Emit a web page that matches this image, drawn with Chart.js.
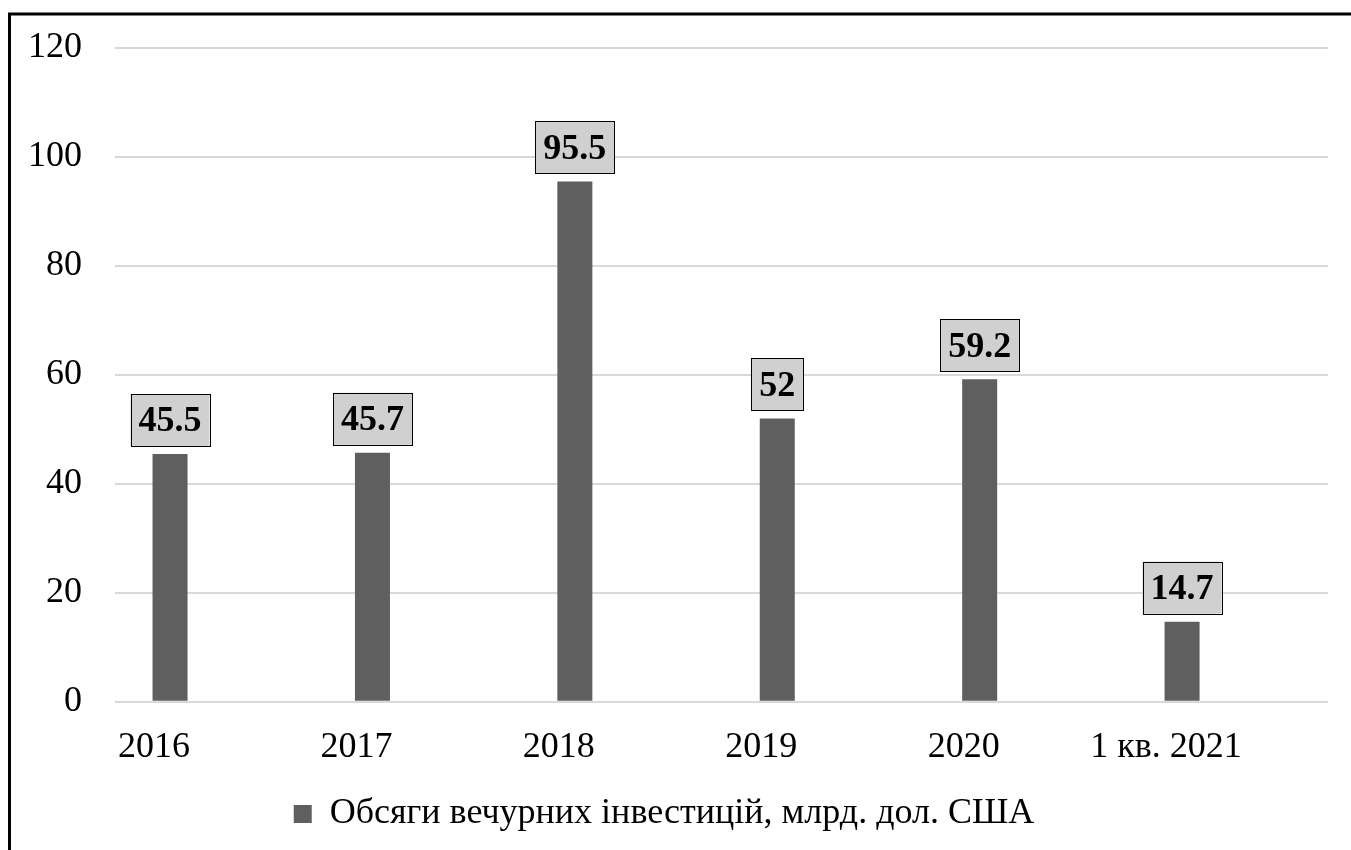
<!DOCTYPE html>
<html>
<head>
<meta charset="utf-8">
<script src="https://cdn.jsdelivr.net/npm/chart.js@4/dist/chart.umd.min.js"></script>
<style>
  html, body { margin: 0; padding: 0; background: #ffffff; }
  #wrap { width: 1351px; height: 850px; }
</style>
</head>
<body>
<div id="wrap"><canvas id="venture"></canvas></div>
<script>
// ------------- Venture investments --------------------------- //

var years = ["2016", "2017", "2018", "2019", "2020", "1 кв. 2021"]

var volumes = [45.5, 45.7, 95.5, 52, 59.2, 14.7]

var seriesName = "Обсяги вечурних інвестицій, млрд. дол. США"

var yTicks = [0, 20, 40, 60, 80, 100, 120]

var serif = "'Liberation Serif', 'Times New Roman', serif"

// bars sit on index positions of a linear x axis
var points = volumes.map(function (v, i) { return { x: i, y: v } })

// black frame on the left and top edges
var framePlugin = {
    id: "frame",
    afterDraw: function (chart) {
        var ctx = chart.ctx
        ctx.save()
        ctx.strokeStyle = "#000000"
        ctx.lineWidth = 3
        ctx.beginPath()
        ctx.moveTo(9.5, chart.height)
        ctx.lineTo(9.5, 14)
        ctx.lineTo(chart.width, 14)
        ctx.stroke()
        ctx.restore()
    }
}

// value boxes above each bar
var valueBoxes = {
    id: "valueBoxes",
    afterDatasetsDraw: function (chart) {
        var ctx = chart.ctx
        var meta = chart.getDatasetMeta(0)
        ctx.save()
        ctx.font = "bold 36px " + serif
        ctx.textAlign = "center"
        ctx.textBaseline = "middle"
        meta.data.forEach(function (bar, i) {
            var text = String(volumes[i])
            var w = ctx.measureText(text).width + 16
            var h = 52
            var x = bar.x - w / 2
            var y = bar.y - 8 - h
            ctx.fillStyle = "#d0d0d0"
            ctx.fillRect(x, y, w, h)
            ctx.strokeStyle = "#000000"
            ctx.lineWidth = 1
            ctx.strokeRect(Math.round(x) + 0.5, Math.round(y) + 0.5, Math.round(w), Math.round(h))
            ctx.fillStyle = "#000000"
            ctx.fillText(text, bar.x, y + h / 2 + 2)
        })
        ctx.restore()
    }
}

var ventureChart = new Chart("venture", {
    type: "bar",
    data: {
        datasets: [{
            label: seriesName,
            backgroundColor: "#5f5f5f",
            data: points,
            barPercentage: 0.173,
            categoryPercentage: 1
        }]
    },
    options: {
        responsive: true,
        maintainAspectRatio: false,
        animation: false,
        layout: { padding: { left: 0, right: 23, top: 48, bottom: 8 } },
        plugins: {
            legend: {
                position: "bottom",
                labels: {
                    boxWidth: 18,
                    boxHeight: 18,
                    padding: 11,
                    color: "#000000",
                    font: { family: serif, size: 36 }
                }
            },
            tooltip: { enabled: false }
        },
        scales: {
            x: {
                type: "linear",
                min: -0.272,
                max: 5.721,
                offset: false,
                afterBuildTicks: function (axis) {
                    axis.ticks = years.map(function (y, i) { return { value: i } })
                },
                grid: { display: false },
                border: { display: false },
                ticks: {
                    color: "#000000",
                    padding: 16,
                    labelOffset: -16,
                    autoSkip: false,
                    maxRotation: 0,
                    font: { family: serif, size: 36 },
                    callback: function (value) { return years[value] }
                }
            },
            y: {
                min: 0,
                max: 120,
                afterBuildTicks: function (axis) {
                    axis.ticks = yTicks.map(function (v) { return { value: v } })
                },
                afterFit: function (axis) {
                    axis.width = 115
                    axis.paddingTop = 0
                    axis.paddingBottom = 0
                },
                grid: { color: "#d9d9d9", lineWidth: 2, drawTicks: false },
                border: { display: false },
                ticks: {
                    color: "#000000",
                    padding: 33,
                    font: { family: serif, size: 36 }
                }
            }
        }
    },
    plugins: [framePlugin, valueBoxes]
});
</script>
</body>
</html>
